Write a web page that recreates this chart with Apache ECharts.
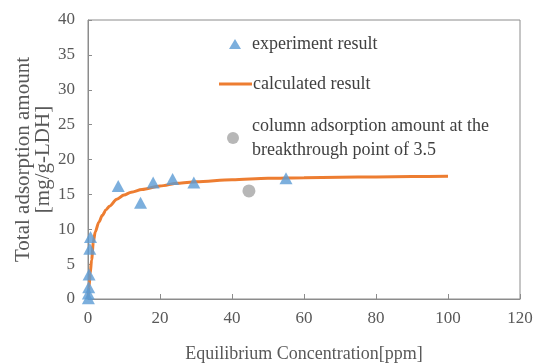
<!DOCTYPE html>
<html>
<head>
<meta charset="utf-8">
<script src="https://cdn.jsdelivr.net/npm/echarts@6/dist/echarts.min.js"></script>
<style>
  html, body { margin: 0; padding: 0; background: #fff; }
  #chart { width: 537px; height: 363px; }
</style>
</head>
<body>
<div id="chart"></div>
<script>
// experiment result (triangles): [concentration, amount]
const experimentPoints = [
  [0.1, 0.1], [0.1, 0.8], [0.2, 1.7], [0.3, 3.5], [0.5, 7.2], [0.7, 8.9],
  [8.4, 16.2], [14.6, 13.8], [18.1, 16.7], [23.5, 17.2], [29.4, 16.7], [55, 17.3]
];
// calculated result (orange curve)
const calcX = [0, 0.3, 0.6, 1, 1.5, 2, 3, 4, 5, 6, 8, 10, 12, 15, 20, 25, 30, 40, 50, 60, 70, 80, 90, 100];
const calcY = [0, 1.8, 3.6, 5.6, 8.2, 9.6, 11, 12, 12.8, 13.3, 14.3, 14.9, 15.3, 15.7, 16.2, 16.6, 16.8, 17.1, 17.3, 17.4, 17.45, 17.5, 17.55, 17.6];
// breakthrough point (gray circle)
const columnPoints = [[44.7, 15.5]];

const xTicks = [0, 20, 40, 60, 80, 100, 120];
const yTicks = [0, 5, 10, 15, 20, 25, 30, 35, 40];

const FONT = "Liberation Serif";
const names = [
  "experiment result",
  "calculated result",
  "column adsorption amount at the\nbreakthrough point of 3.5"
];

const chart = echarts.init(document.getElementById("chart"), null, { renderer: "canvas" });

const legendText = { fontFamily: FONT, fontSize: 18, color: "#404040", lineHeight: 24 };

chart.setOption({
  animation: false,
  backgroundColor: "#fff",
  grid: {
    left: 88, right: 17, top: 20, bottom: 64,
    outerBoundsMode: "none", containLabel: false,
    show: true, borderColor: "#8c8c8c", borderWidth: 1
  },
  legend: [
    { data: [{ name: names[0], icon: "triangle" }], left: 224, top: 27, itemWidth: 12, itemHeight: 10,
      textStyle: Object.assign({}, legendText, { padding: [0, 0, 0, 6] }) },
    { data: [{ name: names[1], icon: "rect" }], left: 214, top: 67, itemWidth: 33, itemHeight: 3,
      textStyle: Object.assign({}, legendText, { padding: [0, 0, 0, -4] }) },
    { data: [{ name: names[2], icon: "circle" }], left: 222, top: 109, itemWidth: 12, itemHeight: 12,
      textStyle: Object.assign({}, legendText, { padding: [0, 0, 0, 8] }) }
  ],
  xAxis: {
    type: "value",
    min: 0, max: 120, interval: 20,
    name: "Equilibrium Concentration[ppm]",
    nameLocation: "middle",
    nameGap: 46,
    nameTextStyle: { fontFamily: FONT, fontSize: 18, color: "#595959" },
    axisLine: { lineStyle: { color: "#8c8c8c" } },
    axisTick: { inside: true, length: 5, lineStyle: { color: "#8c8c8c" } },
    axisLabel: { fontFamily: FONT, fontSize: 17, color: "#595959", margin: 11,
      formatter: v => xTicks.includes(v) ? String(v) : "" },
    splitLine: { show: false }
  },
  yAxis: {
    type: "value",
    min: 0, max: 40, interval: 5,
    name: "Total adsorption amount\n[mg/g-LDH]",
    nameLocation: "middle",
    nameGap: 35,
    nameMoveOverlap: false,
    nameTextStyle: { fontFamily: FONT, fontSize: 21, color: "#595959", lineHeight: 20 },
    axisLine: { show: true, lineStyle: { color: "#8c8c8c" } },
    axisTick: { show: true, inside: true, length: 4, lineStyle: { color: "#8c8c8c" } },
    axisLabel: { fontFamily: FONT, fontSize: 17, color: "#595959", margin: 13,
      formatter: v => yTicks.includes(v) ? String(v) : "" },
    splitLine: { show: false }
  },
  series: [
    {
      name: names[1],
      type: "line",
      data: calcX.map((x, i) => [x, calcY[i]]),
      showSymbol: false,
      smooth: 0.3,
      smoothMonotone: "x",
      lineStyle: { color: "#ED7D31", width: 3 },
      itemStyle: { color: "#ED7D31" },
      z: 2
    },
    {
      name: names[0],
      type: "scatter",
      data: experimentPoints,
      symbol: "triangle",
      symbolSize: [13, 12],
      itemStyle: { color: "#5B9BD5" },
      z: 3
    },
    {
      name: names[2],
      type: "scatter",
      data: columnPoints,
      symbol: "circle",
      symbolSize: 13,
      itemStyle: { color: "#A5A5A5" },
      z: 3
    }
  ]
});
</script>
</body>
</html>
